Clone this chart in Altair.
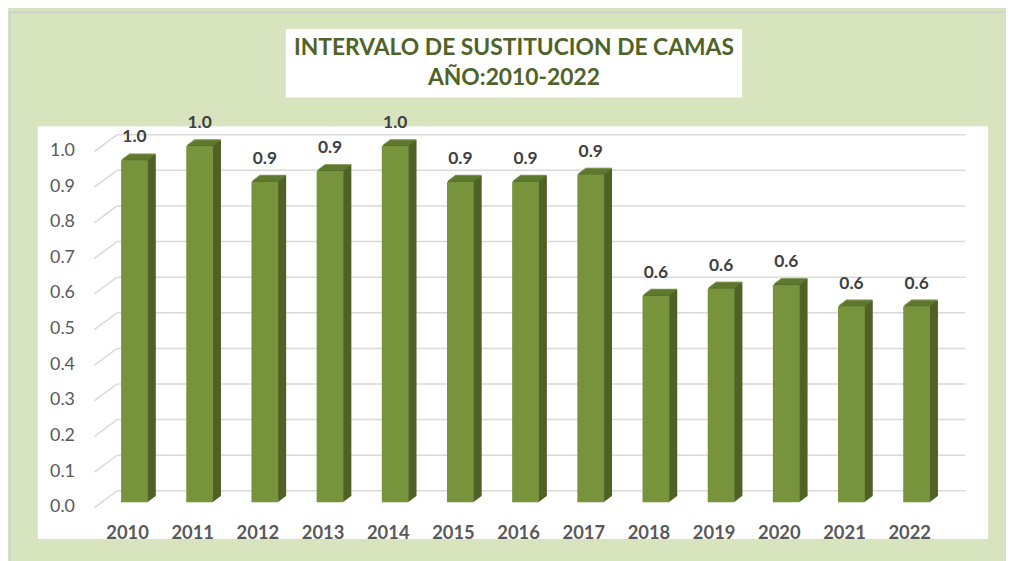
import altair as alt
import pandas as pd

years = ["2010", "2011", "2012", "2013", "2014", "2015", "2016",
         "2017", "2018", "2019", "2020", "2021", "2022"]
values = [0.96, 1.00, 0.90, 0.93, 1.00, 0.90, 0.90, 0.92, 0.58, 0.60, 0.61, 0.55, 0.55]
ticks = [0.0, 0.1, 0.2, 0.3, 0.4, 0.5, 0.6, 0.7, 0.8, 0.9, 1.0]
title_lines = ["INTERVALO DE SUSTITUCION DE CAMAS", "AÑO:2010-2022"]

FRONT = "#77933C"
SIDE = "#4F6228"
TOP = "#637F31"
FONT = "Lato"

df = pd.DataFrame({"year": years, "value": values})
gdf = pd.DataFrame({"tick": ticks})

yscale = alt.Scale(domain=[0, 1.0], range=[379, 20], nice=False, zero=True)
xscale = alt.Scale(type="band", domain=years, range=[64.65, 918.75],
                   paddingInner=0, paddingOuter=0)

xaxis = alt.Axis(title=None, orient="bottom", offset=-6, domain=False, ticks=False,
                 tickSize=0, labelPadding=0, labelBaseline="middle", labelOffset=-7,
                 labelFont=FONT, labelFontSize=18.5, labelFontWeight="bold",
                 labelColor="#595959", grid=False, labelAngle=0)
yaxis = alt.Axis(title=None, orient="left", offset=-37, domain=False, ticks=False,
                 tickSize=0, labelPadding=0, labelBaseline="middle", labelOffset=4.5,
                 values=ticks, format=".1f", labelFont=FONT, labelFontSize=18,
                 labelColor="#595959", grid=False)

X = alt.X("year:N", scale=xscale, axis=xaxis)
Y = alt.Y("value:Q", scale=yscale, axis=yaxis)

layers = []

# gridlines (back wall + side wall diagonals)
gbase = alt.Chart(gdf)
gh = gbase.mark_rule(color="#D9D9D9", strokeWidth=1.5, yOffset=-11.5).encode(
    y=alt.Y("tick:Q", scale=yscale, axis=yaxis),
    x=alt.value(80), x2=alt.value(935))
gd = gbase.mark_rule(color="#D9D9D9", strokeWidth=1.5, yOffset=5.5, y2Offset=-11.5).encode(
    y=alt.Y("tick:Q", scale=yscale, axis=yaxis),
    y2=alt.Y2("tick:Q"),
    x=alt.value(57), x2=alt.value(80))
layers += [gh, gd]

base = alt.Chart(df)
N = 8
for k in range(N, 0, -1):
    dx = 8.0 * k / N
    dy = 6.0 * k / N
    side = base.mark_bar(width=27, color=SIDE, xOffset=dx, yOffset=-dy, y2Offset=-dy).encode(
        x=X, y=Y)
    top = base.mark_tick(size=27, thickness=1.3, color=TOP, xOffset=dx,
                         yOffset=-dy - 0.4, orient="horizontal").encode(x=X, y=Y)
    layers += [side, top]

front = base.mark_bar(width=27, color=FRONT).encode(x=X, y=Y)
labels = base.mark_text(dy=-23, font=FONT, fontSize=17.5, fontWeight="bold",
                        color="#404040", baseline="middle", align="center").encode(
    x=X, y=Y, text=alt.Text("value:Q", format=".1f"))
layers += [front, labels]

# decorative chart-area border and title box
border = alt.Chart(pd.DataFrame({"a": [0]})).mark_rect(
    fill=None, stroke="#D0D0D0", strokeWidth=2).encode(
    x=alt.value(-28), x2=alt.value(1100), y=alt.value(-115), y2=alt.value(600))
tbox = alt.Chart(pd.DataFrame({"a": [0]})).mark_rect(fill="white").encode(
    x=alt.value(250), x2=alt.value(710), y=alt.value(-98), y2=alt.value(-29))
layers += [border, tbox]
for i, line in enumerate(title_lines):
    t = alt.Chart(pd.DataFrame({"t": [line]})).mark_text(
        font=FONT, fontSize=23, fontWeight="bold", color="#4F6228",
        baseline="middle", align="center").encode(
        text="t:N", x=alt.value(480), y=alt.value(-79 + 30 * i))
    layers.append(t)

chart = alt.layer(*layers).properties(
    width=958, height=416,
    background="#D7E4BD",
    padding={"left": 30, "top": 117, "right": 18, "bottom": 20},
    autosize=alt.AutoSizeParams(type="none"),
).configure_view(fill="white", stroke=None)

chart.save("out.html", embed_options={"renderer": "svg", "actions": False})
